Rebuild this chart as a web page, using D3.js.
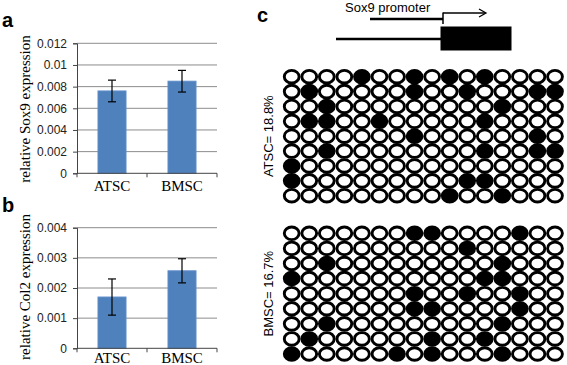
<!DOCTYPE html>
<html>
<head>
<meta charset="utf-8">
<title>Sox9 / Col2 expression and Sox9 promoter methylation</title>
<script src="https://d3js.org/d3.v7.min.js"></script>
<style>
  body { margin: 0; background: #fff; }
  svg { display: block; }
</style>
</head>
<body>
<svg width="567" height="365"></svg>
<script>
// data
var categories = ["ATSC", "BMSC"];
var sox9Mean = [0.0076, 0.0085];
var sox9Err = [0.001, 0.001];
var sox9Ticks = [0, 0.002, 0.004, 0.006, 0.008, 0.01, 0.012];
var col2Mean = [0.0017, 0.00257];
var col2Err = [0.0006, 0.0004];
var col2Ticks = [0, 0.001, 0.002, 0.003, 0.004];

// methylation, 1 = methylated CpG (filled)
var atscRows = [
    "0000100101010000",
    "0100000100100011",
    "0010000000001000",
    "0110010000010000",
    "0000000100000010",
    "0010000000010011",
    "1000000000000000",
    "1000000000110000",
    "0000000001001000"
];
var bmscRows = [
    "0000000110000100",
    "0000000000100000",
    "0010000000001000",
    "1000000000011000",
    "0000000100100100",
    "0000000110000100",
    "0010000000001000",
    "0100000010010000",
    "1000001010001000"
];
var atscLabel = "ATSC= 18.8%";
var bmscLabel = "BMSC= 16.7%";

var svg = d3.select("svg");

// bar chart panel
function barPanel(opt) {
    var g = svg.append("g");
    var x = d3.scaleBand().domain(categories).range([77, 217])
        .paddingInner(0.6).paddingOuter(0.3);
    var y = d3.scaleLinear().domain(opt.domain).range(opt.range);

    // gridlines
    g.selectAll(".grid").data(opt.ticks.slice(1)).enter().append("line")
        .attr("x1", 77).attr("x2", 217)
        .attr("y1", function(d) { return y(d); })
        .attr("y2", function(d) { return y(d); })
        .style("stroke", "#8c8c8c").style("stroke-width", 1);

    // bars
    g.selectAll(".bar").data(opt.mean).enter().append("rect")
        .attr("x", function(d, i) { return x(categories[i]); })
        .attr("width", x.bandwidth())
        .attr("y", function(d) { return y(d); })
        .attr("height", function(d) { return y(0) - y(d); })
        .style("fill", "#4f81bd").style("stroke", "#5d8cc8").style("stroke-width", 1);

    // error bars
    opt.mean.forEach(function(m, i) {
        var cx = x(categories[i]) + x.bandwidth() / 2;
        var lo = y(m - opt.err[i]), hi = y(m + opt.err[i]);
        g.append("line").attr("x1", cx).attr("x2", cx).attr("y1", lo).attr("y2", hi)
            .style("stroke", "#000").style("stroke-width", 1.2);
        [lo, hi].forEach(function(v) {
            g.append("line").attr("x1", cx - 4).attr("x2", cx + 4).attr("y1", v).attr("y2", v)
                .style("stroke", "#000").style("stroke-width", 1.2);
        });
    });

    // y axis
    var yAxis = d3.axisLeft(y).tickValues(opt.ticks).tickSize(4).tickPadding(6)
        .tickFormat(function(d) { return d === 0 ? "0" : String(+d.toFixed(4)); });
    var ya = g.append("g").attr("transform", "translate(77,0)").call(yAxis);
    ya.select(".domain").style("stroke", "#444");
    ya.selectAll(".tick line").style("stroke", "#444");
    ya.selectAll("text").style("font-family", "Arial, 'Liberation Sans', sans-serif")
        .style("font-size", "12px").style("fill", "#222");

    // x axis
    var xa = g.append("g").attr("transform", "translate(0," + y(0) + ")");
    xa.append("line").attr("x1", 77).attr("x2", 217).style("stroke", "#444");
    [77, 147, 217].forEach(function(t) {
        xa.append("line").attr("x1", t).attr("x2", t).attr("y1", 0).attr("y2", 4).style("stroke", "#444");
    });
    xa.selectAll(".cat").data(categories).enter().append("text")
        .attr("x", function(d) { return x(d) + x.bandwidth() / 2; })
        .attr("y", opt.labelY)
        .attr("text-anchor", "middle")
        .style("font-family", "'Liberation Serif', 'Times New Roman', serif")
        .style("font-size", "15px")
        .text(function(d) { return d; });

    // axis title
    g.append("text")
        .attr("transform", "translate(30," + opt.titleY + ") rotate(-90)")
        .attr("text-anchor", "middle")
        .style("font-family", "'Liberation Serif', 'Times New Roman', serif")
        .style("font-size", "15px")
        .text(opt.title);

    // panel letter
    g.append("text").attr("x", 2).attr("y", opt.letterY)
        .style("font-family", "Arial, 'Liberation Sans', sans-serif")
        .style("font-weight", "bold").style("font-size", "20px")
        .text(opt.letter);
}

barPanel({ mean: sox9Mean, err: sox9Err, ticks: sox9Ticks, domain: [0, 0.012],
    range: [173.3, 43.3], labelY: 18, titleY: 109, title: "relative Sox9 expression",
    letter: "a", letterY: 27 });
barPanel({ mean: col2Mean, err: col2Err, ticks: col2Ticks, domain: [0, 0.004],
    range: [348.3, 227.7], labelY: 15, titleY: 287, title: "relative Col2 expression",
    letter: "b", letterY: 212 });

// panel c
svg.append("text").attr("x", 257).attr("y", 22)
    .style("font-family", "Arial, 'Liberation Sans', sans-serif")
    .style("font-weight", "bold").style("font-size", "20px")
    .text("c");

// promoter diagram
var pg = svg.append("g").style("stroke", "#000");
pg.append("text").attr("x", 345).attr("y", 12).style("stroke", "none")
    .style("font-family", "Arial, 'Liberation Sans', sans-serif").style("font-size", "13px")
    .text("Sox9 promoter");
pg.append("line").attr("x1", 370).attr("x2", 443).attr("y1", 19).attr("y2", 19).style("stroke-width", 2.5);
pg.append("line").attr("x1", 443).attr("x2", 443).attr("y1", 12.5).attr("y2", 24).style("stroke-width", 1.5);
pg.append("line").attr("x1", 443).attr("x2", 485).attr("y1", 13).attr("y2", 13).style("stroke-width", 1.3);
pg.append("path").attr("d", "M479,9 L486,13 L479,17").style("fill", "none").style("stroke-width", 1.3);
pg.append("line").attr("x1", 336).attr("x2", 442).attr("y1", 39).attr("y2", 39).style("stroke-width", 2.5);
pg.append("rect").attr("x", 441).attr("y", 27).attr("width", 70).attr("height", 23)
    .style("fill", "#000");

// methylation grids
var colX = d3.scalePoint().domain(d3.range(16)).range([291.7, 555]);

function grid(rows, yRange, label) {
    var rowY = d3.scalePoint().domain(d3.range(rows.length)).range(yRange);
    var cells = [];
    rows.forEach(function(r, i) {
        r.split("").forEach(function(c, j) { cells.push({ row: i, col: j, m: c === "1" }); });
    });
    svg.append("g").selectAll("ellipse").data(cells).enter().append("ellipse")
        .attr("cx", function(d) { return colX(d.col); })
        .attr("cy", function(d) { return rowY(d.row); })
        .attr("rx", 7.4).attr("ry", 6.3)
        .style("fill", function(d) { return d.m ? "#000" : "#fff"; })
        .style("stroke", "#000").style("stroke-width", 2.9);
    var cy = (yRange[0] + yRange[1]) / 2;
    svg.append("text")
        .attr("transform", "translate(273," + cy + ") rotate(-90)")
        .attr("text-anchor", "middle")
        .style("font-family", "Arial, 'Liberation Sans', sans-serif").style("font-size", "13px")
        .text(label);
}

grid(atscRows, [76.7, 195.7], atscLabel);
grid(bmscRows, [233.3, 354], bmscLabel);
</script>
</body>
</html>
